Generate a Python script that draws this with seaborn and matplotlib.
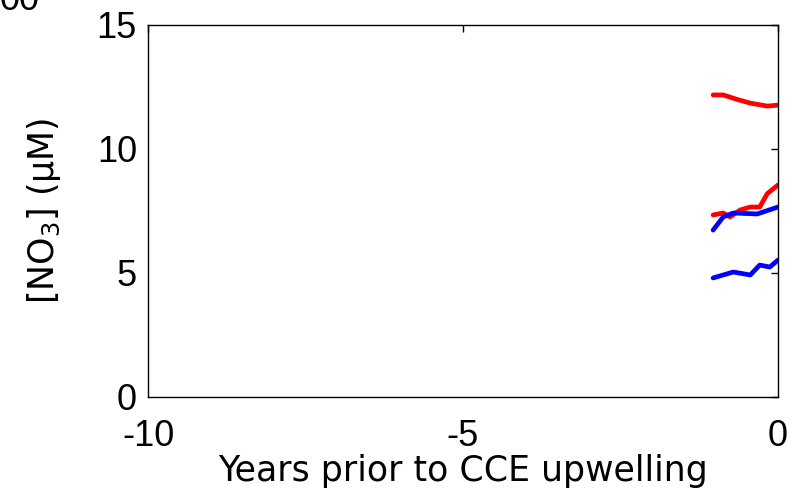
import matplotlib
matplotlib.use("Agg")
import matplotlib.pyplot as plt
import seaborn as sns
import pandas as pd

sns.set_theme(style="white")
plt.rcParams["font.family"] = ["Liberation Sans", "DejaVu Sans"]
plt.rcParams["text.color"] = "black"
plt.rcParams["axes.labelcolor"] = "black"
plt.rcParams["xtick.color"] = "black"
plt.rcParams["ytick.color"] = "black"

# Nitrate records over the last year before upwelling
red_upper_x = [-1.03, -0.87, -0.65, -0.44, -0.17, 0.0]
red_upper_y = [12.18, 12.18, 12.0, 11.85, 11.73, 11.77]

red_lower_x = [-1.03, -0.87, -0.76, -0.60, -0.44, -0.29, -0.17, 0.0]
red_lower_y = [7.34, 7.42, 7.26, 7.54, 7.66, 7.66, 8.2, 8.55]

blue_upper_x = [-1.03, -0.87, -0.71, -0.33, 0.0]
blue_upper_y = [6.73, 7.26, 7.42, 7.38, 7.66]

blue_lower_x = [-1.03, -0.87, -0.71, -0.44, -0.29, -0.13, 0.0]
blue_lower_y = [4.8, 4.92, 5.04, 4.92, 5.32, 5.24, 5.52]

x_ticks = [-10, -5, 0]
y_ticks = [0, 5, 10, 15]

series = [
    (red_upper_x, red_upper_y, "red"),
    (red_lower_x, red_lower_y, "red"),
    (blue_upper_x, blue_upper_y, "blue"),
    (blue_lower_x, blue_lower_y, "blue"),
]

fig = plt.figure(figsize=(7.92, 4.95), dpi=100)
ax = fig.add_axes([148 / 792, 1 - 397 / 495, 630 / 792, 372 / 495])

for xs, ys, col in series:
    df = pd.DataFrame({"x": xs, "y": ys})
    sns.lineplot(data=df, x="x", y="y", ax=ax, color=col, linewidth=3.4,
                 estimator=None, sort=False)

ax.set_xlim(-10, 0)
ax.set_ylim(0, 15)
ax.set_xticks(x_ticks)
ax.set_yticks(y_ticks)
ax.set_xticklabels([str(v) for v in x_ticks])
ax.set_yticklabels([str(v) for v in y_ticks])
ax.tick_params(direction="in", length=5, width=1, labelsize=26, color="black",
               top=True, right=True)
ax.tick_params(axis="x", pad=16)
ax.tick_params(axis="y", pad=8)
for s in ax.spines.values():
    s.set_visible(True)
    s.set_color("black")
    s.set_linewidth(1)

label_font = dict(fontsize=25, family=["DejaVu Sans"])
ax.set_xlabel("Years prior to CCE upwelling", labelpad=0, **label_font)
ax.set_ylabel("[NO$_3$] (\u03bcM)", labelpad=24, **label_font)

fig.text(0.0, 1.0, "00", fontsize=26, ha="left", va="center")

fig.savefig("out.png", dpi=100, facecolor="white")
